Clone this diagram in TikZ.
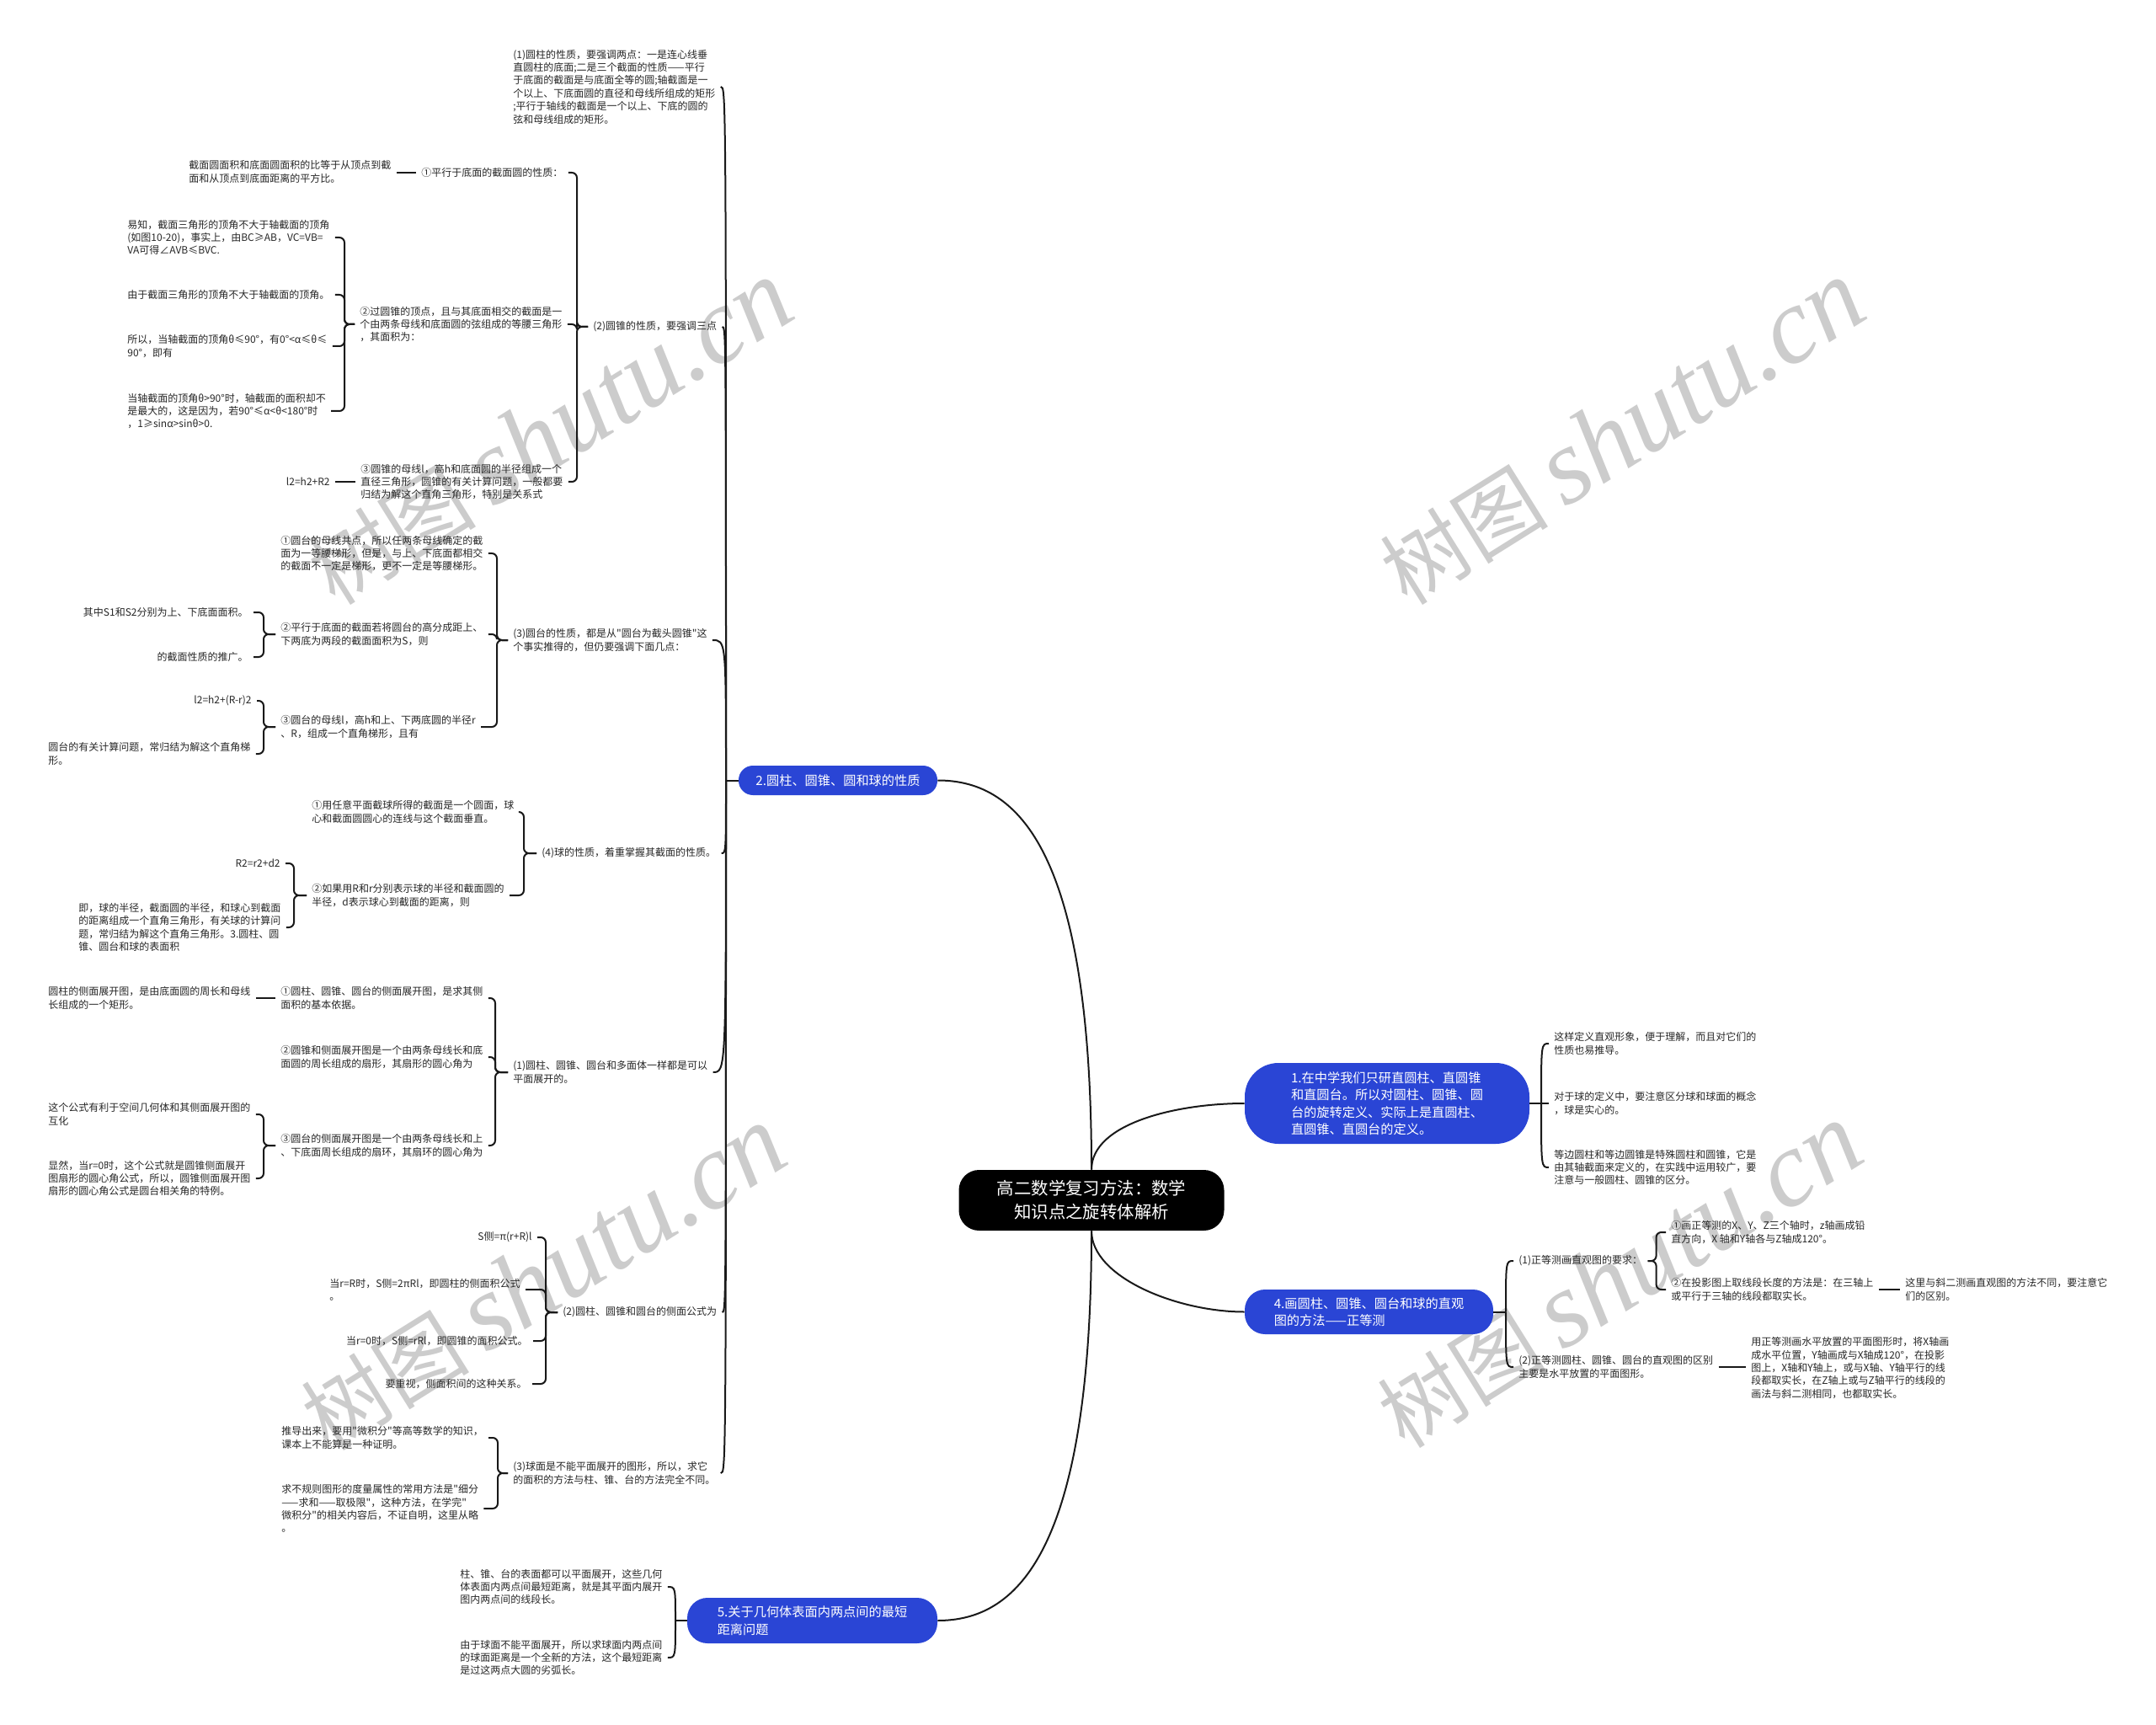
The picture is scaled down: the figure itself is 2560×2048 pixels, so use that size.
\documentclass[tikz,border=0pt]{standalone}
\usepackage{fontspec}
\newfontfamily\cjk{Noto Sans CJK SC}
\newfontfamily\wmlatin{Liberation Serif}
\usetikzlibrary{calc}
\definecolor{nodeblue}{HTML}{2A45D5}
\begin{document}
\begin{tikzpicture}[x=0.5pt,y=-0.5pt,
  txt/.style={font=\cjk\fontsize{6}{7.7}\selectfont, align=left, inner xsep=3pt, inner ysep=1pt, text=black!85},
  blu/.style={fill=nodeblue, text=white, font=\cjk\fontsize{7.6}{10.25}\selectfont, align=left, inner sep=0pt},
  root/.style={fill=black, text=white, font=\cjk\fontsize{10.2}{14}\selectfont, align=center, inner sep=0pt, rounded corners=12pt, minimum width=157.5pt, minimum height=36pt},
  br/.style={draw=black!90, line width=1pt, rounded corners=3pt},
  cv/.style={draw=black!90, line width=1pt},
  wm/.style={text=black!20, inner sep=0pt}
]
\useasboundingbox (0,0) rectangle (2560,2048);
% watermarks
\foreach \a/\b in {653/514,1926/514,645/1518,1923/1515}
  \node[wm,rotate=32] at (\a,\b) {{\cjk\fontsize{50}{50}\selectfont 树图}\hspace{10pt}{\wmlatin\itshape\fontsize{64}{64}\selectfont shutu.cn}};

% root and main topics
\node[root] (C) at (1296,1425) {高二数学复习方法：数学\\知识点之旋转体解析};
\node[blu, minimum width=169pt, minimum height=48pt, rounded corners=20pt] (N1) at (1647,1310) {1.在中学我们只研直圆柱、直圆锥\\和直圆台。所以对圆柱、圆锥、圆\\台的旋转定义、实际上是直圆柱、\\直圆锥、直圆台的定义。};
\node[blu, minimum width=118pt, minimum height=17.5pt, rounded corners=8.5pt] (N2) at (995,926.5) {2.圆柱、圆锥、圆和球的性质};
\node[blu, minimum width=147.5pt, minimum height=26.5pt, rounded corners=12pt] (N4) at (1625.5,1557.5) {4.画圆柱、圆锥、圆台和球的直观\\图的方法——正等测};
\node[blu, minimum width=148.5pt, minimum height=27pt, rounded corners=12pt] (N5) at (964.5,1924) {5.关于几何体表面内两点间的最短\\距离问题};

\draw[cv] (C.north) .. controls +(0,-390) and +(90,0) .. (N2.east);
\draw[cv] (C.south) .. controls +(0,390) and +(90,0) .. (N5.east);
\draw[cv] (C.north) .. controls +(0,-55) and +(-80,0) .. (N1.west);
\draw[cv] (C.south) .. controls +(0,55) and +(-80,0) .. (N4.west);

% ---------- right: topic 1
\node[txt,anchor=west] (R1a) at (1839,1239) {这样定义直观形象，便于理解，而且对它们的\\性质也易推导。};
\node[txt,anchor=west] (R1b) at (1839,1310) {对于球的定义中，要注意区分球和球面的概念\\，球是实心的。};
\node[txt,anchor=west] (R1c) at (1839,1386) {等边圆柱和等边圆锥是特殊圆柱和圆锥，它是\\由其轴截面来定义的，在实践中运用较广，要\\注意与一般圆柱、圆锥的区分。};
\coordinate (N1b) at (1830,1310);
\draw[cv] (N1.east) -- (N1b);
\foreach \c in {R1a,R1b,R1c} \draw[cv] (N1b) .. controls (N1b |- \c.west) .. (\c.west);

% ---------- right: topic 4
\node[txt,anchor=west] (A41) at (1797,1497) {(1)正等测画直观图的要求：};
\node[txt,anchor=west] (A42) at (1797,1623) {(2)正等测圆柱、圆锥、圆台的直观图的区别\\主要是水平放置的平面图形。};
\node[txt,anchor=west] (B411) at (1978,1463) {①画正等测的X、Y、Z三个轴时，z轴画成铅\\直方向，X 轴和Y轴各与Z轴成120°。};
\node[txt,anchor=west] (B412) at (1978,1531) {②在投影图上取线段长度的方法是：在三轴上\\或平行于三轴的线段都取实长。};
\node[txt,anchor=west] (B4121) at (2256,1531) {这里与斜二测画直观图的方法不同，要注意它\\们的区别。};
\node[txt,anchor=west] (B421) at (2073,1624) {用正等测画水平放置的平面图形时，将X轴画\\成水平位置，Y轴画成与X轴成120°，在投影\\图上，X轴和Y轴上，或与X轴、Y轴平行的线\\段都取实长，在Z轴上或与Z轴平行的线段的\\画法与斜二测相同，也都取实长。};
\coordinate (N4b) at (1788,1557.5);
\draw[cv] (N4.east) -- (N4b);
\foreach \c in {A41,A42} \draw[cv] (N4b) .. controls (N4b |- \c.west) .. (\c.west);
\foreach \c in {B411,B412} \draw[br] (A41.east) -- ++(10,0) |- (\c.west);
\draw[br] (B412.east) -- (B412.east -| B4121.west);
\draw[br] (A42.east) -- (A42.east -| B421.west);

% ---------- left: topic 5
\node[txt,anchor=west] (L51) at (540,1884) {柱、锥、台的表面都可以平面展开，这些几何\\体表面内两点间最短距离，就是其平面内展开\\图内两点间的线段长。};
\node[txt,anchor=west] (L52) at (540,1968) {由于球面不能平面展开，所以求球面内两点间\\的球面距离是一个全新的方法，这个最短距离\\是过这两点大圆的劣弧长。};
\coordinate (N5b) at (802,1924);
\draw[cv] (N5.west) -- (N5b);
\foreach \c in {L51,L52} \draw[cv] (N5b) .. controls (N5b |- \c.east) .. (\c.east);

% ---------- left: topic 2
\node[txt,anchor=west] (T1) at (603,103) {(1)圆柱的性质，要强调两点：一是连心线垂\\直圆柱的底面;二是三个截面的性质——平行\\于底面的截面是与底面全等的圆;轴截面是一\\个以上、下底面圆的直径和母线所组成的矩形\\;平行于轴线的截面是一个以上、下底的圆的\\弦和母线组成的矩形。};
\node[txt,anchor=west] (T2) at (698,388) {(2)圆锥的性质，要强调三点};
\node[txt,anchor=west] (T3) at (603,760) {(3)圆台的性质，都是从"圆台为截头圆锥"这\\个事实推得的，但仍要强调下面几点：};
\node[txt,anchor=west] (T4) at (637,1013) {(4)球的性质，着重掌握其截面的性质。};
\node[txt,anchor=west] (T5) at (603,1273) {(1)圆柱、圆锥、圆台和多面体一样都是可以\\平面展开的。};
\node[txt,anchor=west] (T6) at (662,1558) {(2)圆柱、圆锥和圆台的侧面公式为};
\node[txt,anchor=west] (T7) at (603,1749) {(3)球面是不能平面展开的图形，所以，求它\\的面积的方法与柱、锥、台的方法完全不同。};
\coordinate (N2b) at (862,926.5);
\draw[cv] (N2.west) -- (N2b);
\foreach \c in {T1,T2,T3,T4,T5,T6,T7} \draw[cv] (N2b) .. controls (N2b |- \c.east) .. (\c.east);

% (2) cone
\node[txt,anchor=west] (U1) at (494,205) {①平行于底面的截面圆的性质：};
\node[txt,anchor=west] (U2) at (421,385) {②过圆锥的顶点，且与其底面相交的截面是一\\个由两条母线和底面圆的弦组成的等腰三角形\\，其面积为：};
\node[txt,anchor=west] (U3) at (422,572) {③圆锥的母线l，高h和底面圆的半径组成一个\\直径三角形，圆锥的有关计算问题，一般都要\\归结为解这个直角三角形，特别是关系式};
\foreach \c in {U1,U2,U3} \draw[br] (T2.west) -- ++(-13,0) |- (\c.east);
\node[txt,anchor=west] (V11) at (218,204) {截面圆面积和底面圆面积的比等于从顶点到截\\面和从顶点到底面距离的平方比。};
\draw[br] (U1.west) -- (U1.west -| V11.east);
\node[txt,anchor=west] (V21) at (145,282) {易知，截面三角形的顶角不大于轴截面的顶角\\(如图10-20)，事实上，由BC≥AB，VC=VB=\\VA可得∠AVB≤BVC.};
\node[txt,anchor=west] (V22) at (145,350) {由于截面三角形的顶角不大于轴截面的顶角。};
\node[txt,anchor=west] (V23) at (145,411) {所以，当轴截面的顶角θ≤90°，有0°<α≤θ≤\\90°，即有};
\node[txt,anchor=west] (V24) at (145,488) {当轴截面的顶角θ>90°时，轴截面的面积却不\\是最大的，这是因为，若90°≤α<θ<180°时\\，1≥sinα>sinθ>0.};
\foreach \c in {V21,V22,V23,V24} \draw[br] (U2.west) -- ++(-12,0) |- (\c.east);
\node[txt,anchor=east] (V31) at (398,572) {l2=h2+R2};
\draw[br] (U3.west) -- (U3.west -| V31.east);

% (3) frustum
\node[txt,anchor=west] (W1) at (327,657) {①圆台的母线共点，所以任两条母线确定的截\\面为一等腰梯形，但是，与上、下底面都相交\\的截面不一定是梯形，更不一定是等腰梯形。};
\node[txt,anchor=west] (W2) at (327,753) {②平行于底面的截面若将圆台的高分成距上、\\下两底为两段的截面面积为S，则};
\node[txt,anchor=west] (W3) at (327,863) {③圆台的母线l，高h和上、下两底圆的半径r\\、R，组成一个直角梯形，且有};
\foreach \c in {W1,W2,W3} \draw[br] (T3.west) -- ++(-13,0) |- (\c.east);
\node[txt,anchor=east] (X21) at (301,727) {其中S1和S2分别为上、下底面面积。};
\node[txt,anchor=east] (X22) at (301,780) {的截面性质的推广。};
\foreach \c in {X21,X22} \draw[br] (W2.west) -- ++(-14,0) |- (\c.east);
\node[txt,anchor=east] (X31) at (305,832) {l2=h2+(R-r)2};
\node[txt,anchor=west] (X32) at (51,895) {圆台的有关计算问题，常归结为解这个直角梯\\形。};
\foreach \c in {X31,X32} \draw[br] (W3.west) -- ++(-14,0) |- (\c.east);

% (4) sphere
\node[txt,anchor=west] (Y1) at (364,964) {①用任意平面截球所得的截面是一个圆面，球\\心和截面圆圆心的连线与这个截面垂直。};
\node[txt,anchor=west] (Y2) at (364,1063) {②如果用R和r分别表示球的半径和截面圆的\\半径，d表示球心到截面的距离，则};
\foreach \c in {Y1,Y2} \draw[br] (T4.west) -- ++(-15,0) |- (\c.east);
\node[txt,anchor=east] (Z21) at (339,1025) {R2=r2+d2};
\node[txt,anchor=west] (Z22) at (87,1101) {即，球的半径，截面圆的半径，和球心到截面\\的距离组成一个直角三角形，有关球的计算问\\题，常归结为解这个直角三角形。3.圆柱、圆\\锥、圆台和球的表面积};
\foreach \c in {Z21,Z22} \draw[br] (Y2.west) -- ++(-15,0) |- (\c.east);

% (1) development
\node[txt,anchor=west] (P1) at (327,1185) {①圆柱、圆锥、圆台的侧面展开图，是求其侧\\面积的基本依据。};
\node[txt,anchor=west] (P2) at (327,1255) {②圆锥和侧面展开图是一个由两条母线长和底\\面圆的周长组成的扇形，其扇形的圆心角为};
\node[txt,anchor=west] (P3) at (327,1360) {③圆台的侧面展开图是一个由两条母线长和上\\、下底面周长组成的扇环，其扇环的圆心角为};
\foreach \c in {P1,P2,P3} \draw[br] (T5.west) -- ++(-15,0) |- (\c.east);
\node[txt,anchor=west] (Q11) at (51,1185) {圆柱的侧面展开图，是由底面圆的周长和母线\\长组成的一个矩形。};
\draw[br] (P1.west) -- (P1.west -| Q11.east);
\node[txt,anchor=west] (Q31) at (51,1323) {这个公式有利于空间几何体和其侧面展开图的\\互化};
\node[txt,anchor=west] (Q32) at (51,1399) {显然，当r=0时，这个公式就是圆锥侧面展开\\图扇形的圆心角公式，所以，圆锥侧面展开图\\扇形的圆心角公式是圆台相关角的特例。};
\foreach \c in {Q31,Q32} \draw[br] (P3.west) -- ++(-14,0) |- (\c.east);

% (2) lateral area
\node[txt,anchor=east] (S1) at (638,1469) {S侧=π(r+R)l};
\node[txt,anchor=west] (S2) at (385,1531) {当r=R时，S侧=2πRl，即圆柱的侧面积公式\\。};
\node[txt,anchor=east] (S3) at (633,1592) {当r=0时，S侧=rRl，即圆锥的面积公式。};
\node[txt,anchor=east] (S4) at (632,1643) {要重视，侧面积间的这种关系。};
\foreach \c in {S1,S2,S3,S4} \draw[br] (T6.west) -- ++(-14,0) |- (\c.east);

% (3) sphere surface
\node[txt,anchor=west] (K1) at (328,1707) {推导出来，要用"微积分"等高等数学的知识，\\课本上不能算是一种证明。};
\node[txt,anchor=west] (K2) at (328,1791) {求不规则图形的度量属性的常用方法是"细分\\——求和——取极限"，这种方法，在学完"\\微积分"的相关内容后，不证自明，这里从略\\。};
\foreach \c in {K1,K2} \draw[br] (T7.west) -- ++(-12,0) |- (\c.east);
\end{tikzpicture}
\end{document}
